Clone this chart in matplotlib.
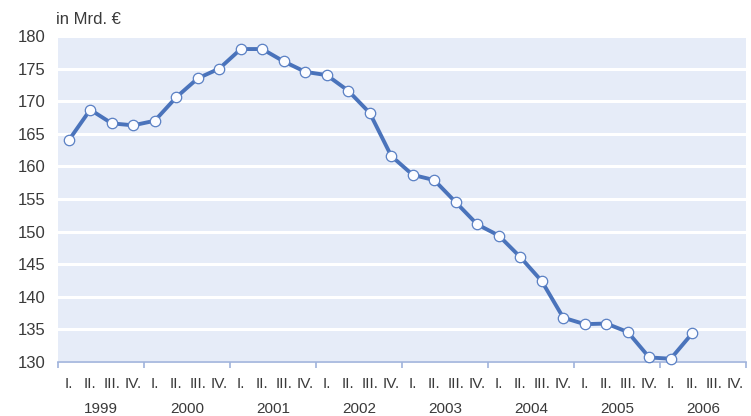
import numpy as np
import matplotlib
matplotlib.use('Agg')
import matplotlib.pyplot as plt

# data
years = ['1999', '2000', '2001', '2002', '2003', '2004', '2005', '2006']
quarters = ['I.', 'II.', 'III.', 'IV.']
values = [164.0, 168.7, 166.6, 166.3,
          167.0, 170.6, 173.5, 175.0,
          178.0, 178.0, 176.1, 174.5,
          174.0, 171.6, 168.2, 161.6,
          158.7, 157.9, 154.5, 151.1,
          149.4, 146.1, 142.4, 136.8,
          135.8, 135.9, 134.6, 130.7,
          130.5, 134.4]
yticks = [130, 135, 140, 145, 150, 155, 160, 165, 170, 175, 180]

plt.rcParams['font.family'] = ['Liberation Sans', 'DejaVu Sans']

line_col = '#4a73bb'
bg_col = '#e6ecf8'
txt_col = '#3a3a3a'

fig = plt.figure(figsize=(7.51, 4.16), dpi=100)
ax = fig.add_axes([58/751, 54/416, 688/751, 326/416])
ax.set_facecolor(bg_col)

n_cat = len(years) * len(quarters)
x = np.arange(len(values)) + 0.5
ax.plot(x, values, color=line_col, lw=2.8, marker='o', ms=7.5,
        mfc='#fbfcff', mec='#5a80c4', mew=0.9, zorder=3, clip_on=False)

ax.set_xlim(0, n_cat)
ax.set_ylim(130, 180)
ax.set_yticks(yticks)
ax.grid(axis='y', color='white', lw=2.2)
ax.set_axisbelow(True)

for s in ['top', 'right', 'left']:
    ax.spines[s].set_visible(False)
ax.spines['bottom'].set_color('#9fb3dc')
ax.spines['bottom'].set_linewidth(1.2)

ax.tick_params(axis='y', length=0, labelsize=12, labelcolor=txt_col, pad=9)
ax.set_xticks(np.arange(0, n_cat + 1, 4))
ax.set_xticklabels([])
ax.tick_params(axis='x', length=4, color='#9fb3dc', width=1.2)

# quarter and year labels
for i in range(n_cat):
    ax.text(i + 0.5, -0.066, quarters[i % 4], transform=ax.get_xaxis_transform(),
            ha='center', va='center', fontsize=11, color=txt_col)
for j, yr in enumerate(years):
    ax.text(j * 4 + 2, -0.143, yr, transform=ax.get_xaxis_transform(),
            ha='center', va='center', fontsize=11, color=txt_col)

fig.text(56/751, 1 - 20/416, 'in Mrd. €', ha='left', va='center',
         fontsize=12, color=txt_col)

plt.savefig('out.png', dpi=100)
plt.close()
